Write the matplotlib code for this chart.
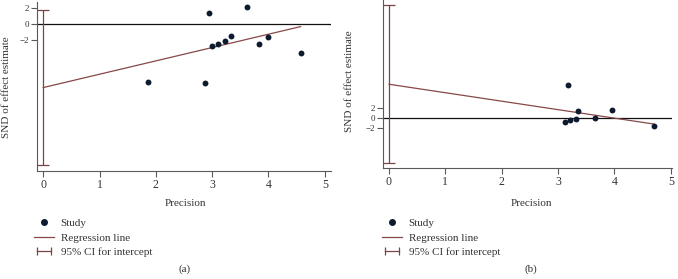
import numpy as np
import matplotlib
matplotlib.use("Agg")
import matplotlib.pyplot as plt
from matplotlib.lines import Line2D
from matplotlib.legend_handler import HandlerLine2D

plt.rcParams['font.family'] = ['Liberation Serif', 'DejaVu Serif']

# Panel (a)
prec_a = [1.86, 2.87, 2.95, 2.99, 3.11, 3.22, 3.34, 3.62, 3.84, 3.99, 4.57]
snd_a = [-7.3, -7.4, 1.33, -2.8, -2.5, -2.17, -1.54, 2.08, -2.5, -1.58, -3.63]
intercept_a, slope_a = -7.96, 1.67
ci_a = (-17.6, 1.7)

# Panel (b)
prec_b = [3.13, 3.17, 3.21, 3.32, 3.35, 3.66, 3.96, 4.70]
snd_b = [-0.9, 6.65, -0.35, -0.2, 1.35, 0.0, 1.7, -1.63]
intercept_b, slope_b = 6.9, -1.73
ci_b = (-9.2, 23.0)

yticks = [2, 0, -2]
ytick_labels = ['2', '0', '\u22122']

W, H = 678, 279
dot_c = '#0e1a2e'
reg_c = '#874848'
ci_c = '#7a4545'
spine_c = '#5a5a5a'
txt_c = '#333333'
fs = 8

fig = plt.figure(figsize=(W / 100, H / 100), dpi=100)


def px_axes(l, t, r, b):
    return fig.add_axes([l / W, 1 - b / H, (r - l) / W, (b - t) / H])


def draw_panel(ax, x, y, b0, b1, ci, xlim, ylim):
    ax.axhline(0, color='#111111', lw=0.9, zorder=1)
    xs = np.array([0, max(x)])
    ax.plot(xs, b0 + b1 * xs, color=reg_c, lw=0.9, zorder=2)
    ax.errorbar([0], [(ci[0] + ci[1]) / 2], yerr=[[(ci[1] - ci[0]) / 2]],
                color=ci_c, lw=0.9, capsize=4, capthick=0.9, fmt='none', zorder=2)
    ax.scatter(x, y, s=18, color=dot_c, zorder=3, linewidths=0)
    ax.set_xlim(*xlim)
    ax.set_ylim(*ylim)
    ax.set_xticks(range(6))
    ax.set_yticks(yticks)
    ax.set_yticklabels(ytick_labels)
    for s in ['top', 'right']:
        ax.spines[s].set_visible(False)
    for s in ['left', 'bottom']:
        ax.spines[s].set_color(spine_c)
        ax.spines[s].set_linewidth(0.8)
    ax.tick_params(direction='out', length=4, width=0.8, color=spine_c,
                   labelcolor=txt_c, pad=2)
    ax.tick_params(axis='x', labelsize=8.5)
    ax.tick_params(axis='y', labelsize=6.5, pad=1.5)


ax_a = px_axes(37, 2, 331, 171)
draw_panel(ax_a, prec_a, snd_a, intercept_a, slope_a, ci_a, (-0.11, 5.11), (-18.4, 2.75))
ax_b = px_axes(383, 0, 672, 168)
draw_panel(ax_b, prec_b, snd_b, intercept_b, slope_b, ci_b, (-0.106, 5.02), (-10.2, 24.1))

handles = [
    Line2D([], [], marker='o', ls='none', color=dot_c, markersize=4),
    Line2D([], [], color=reg_c, lw=0.9),
    Line2D([], [], color=ci_c, lw=0.9, marker='|', markersize=6, markeredgewidth=0.9),
]
labels = ['Study', 'Regression line', '95% CI for intercept']

for cx, lx, tag in [(185, 34, '(a)'), (531, 382, '(b)')]:
    fig.text(cx / W, 1 - 203 / H, 'Precision', ha='center', va='center',
             fontsize=fs, color=txt_c)
    fig.text(cx / W, 1 - 269 / H, tag, ha='center', va='center',
             fontsize=fs, color=txt_c)
    fig.legend(handles, labels, loc='upper left',
               bbox_to_anchor=(lx / W, 1 - 218 / H),
               frameon=False, fontsize=fs, borderpad=0, borderaxespad=0,
               handlelength=1.8, handletextpad=0.6, labelspacing=0.45,
               labelcolor=txt_c,
               handler_map={handles[2]: HandlerLine2D(numpoints=2),
                            handles[0]: HandlerLine2D(numpoints=1)})

fig.text(7 / W, 1 - 87 / H, 'SND of effect estimate', rotation=90,
         ha='center', va='center', fontsize=fs, color=txt_c)
fig.text(350 / W, 1 - 81 / H, 'SND of effect estimate', rotation=90,
         ha='center', va='center', fontsize=fs, color=txt_c)

fig.savefig('out.png', dpi=100)
